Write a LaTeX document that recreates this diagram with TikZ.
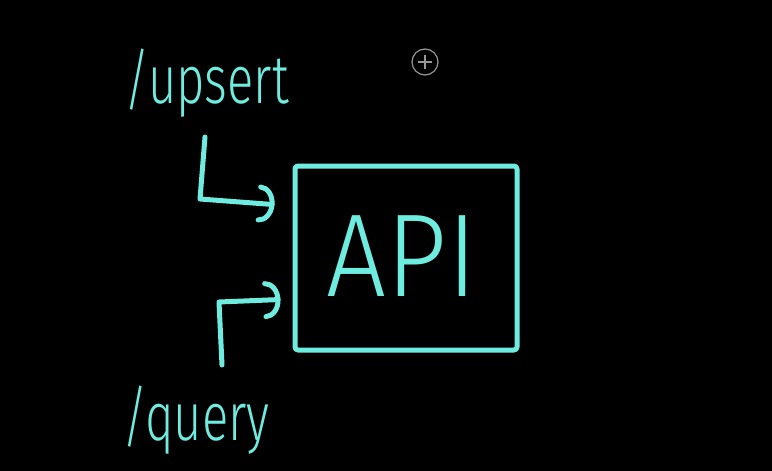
\documentclass[tikz,border=0pt]{standalone}
\usepackage{fontspec}
\setmainfont{Fira Sans Light}
\usetikzlibrary{arrows.meta,calc}
\definecolor{ink}{RGB}{110,236,224}
\definecolor{pen}{RGB}{150,150,150}
\tikzset{%
  stroke/.style={draw=ink,line width=5pt,line cap=round,line join=round},
  flow/.style={stroke,-{Arc Barb[round,length=8pt,width=20pt,scale=1.9]}},
  scrawl/.style={text=ink,inner sep=0pt,font=\fontsize{#1}{#1}\selectfont},
  scrawl/.default=60
}

\begin{document}
\begin{tikzpicture}[x=1pt,y=-1pt]
  % Board
  \fill[black] (0,0) rectangle (772,471);
  \useasboundingbox (0,0) rectangle (772,471);
  % Service box
  \node[stroke,minimum width=222pt,minimum height=184pt,rounded corners=3pt] (api) at (406,258) {};
  \node[scrawl=118,xscale=0.9] (apitxt) at (402,256) {API};
  % Endpoints
  \node[scrawl=68,xscale=0.72,anchor=base west] (upsert) at (124,103) {/upsert};
  \node[scrawl=68,xscale=0.72,anchor=base west] (query) at (122,440) {/query};
  % Calls into the box
  \coordinate (u0) at (205,137);
  \coordinate (u1) at (200,199);
  \coordinate (q0) at (222,365);
  \coordinate (q1) at (219,302);
  \draw[flow,shorten >=18pt] (u0) -- (u1) -- ([yshift=52pt]api.west);
  \draw[flow,shorten >=12pt] (q0) -- (q1) -- ([yshift=-41pt]api.west);
  % Pen cursor
  \draw[pen,line width=1.2pt] (425,62) circle (13pt);
  \draw[pen,line width=1.6pt] (418,62) -- (432,62) (425,55) -- (425,69);
\end{tikzpicture}
\end{document}
